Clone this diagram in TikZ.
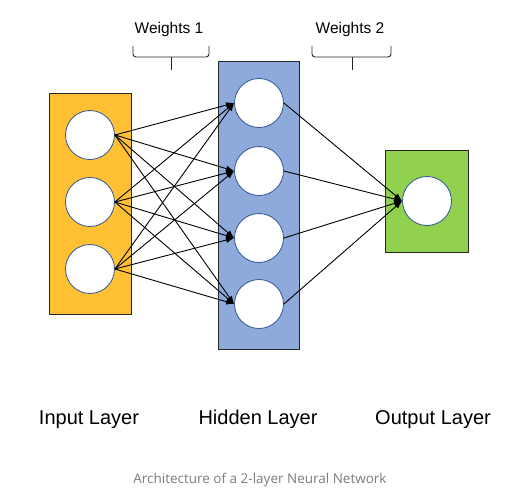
\documentclass[tikz,border=0pt]{standalone}
\usepackage{fontspec}
\setmainfont{Liberation Sans}
\newfontfamily\captionfont{Open Sans}
\usetikzlibrary{arrows.meta}

\definecolor{inputfill}{HTML}{FFC133}
\definecolor{hiddenfill}{HTML}{8EAADB}
\definecolor{outputfill}{HTML}{92D050}
\definecolor{ringblue}{HTML}{2F5597}
\definecolor{captiongray}{HTML}{7C7C7C}

\begin{document}
\begin{tikzpicture}[x=1pt,y=-1pt,
  layerbox/.style={draw=black!85,line width=0.9pt,inner sep=0pt},
  neuron/.style={circle,draw=ringblue,fill=white,line width=0.8pt,minimum size=49pt,inner sep=0pt},
  weight/.style={-{Latex[length=8pt,width=6pt]},line width=0.9pt},
  bracket/.style={line width=0.9pt,rounded corners=3pt,draw=black!85},
  layername/.style={anchor=base,font=\fontsize{20}{24}\selectfont},
  weightname/.style={anchor=base,font=\fontsize{15.5}{18}\selectfont}]

\useasboundingbox (0,0) rectangle (513,492);

% Layer boxes
\node[layerbox,fill=inputfill,minimum width=82pt,minimum height=221pt] (inbox) at (90,203.5) {};
\node[layerbox,fill=hiddenfill,minimum width=81pt,minimum height=288pt] (hidbox) at (258.5,205) {};
\node[layerbox,fill=outputfill,minimum width=83pt,minimum height=102pt] (outbox) at (426.5,201) {};

% Neurons
\foreach \i/\y in {1/135,2/202,3/269}
  \node[neuron] (in\i) at (90,\y) {};
\foreach \i/\y in {1/103,2/171,3/238,4/304}
  \node[neuron] (hid\i) at (259,\y) {};
\node[neuron] (out) at (427,201) {};

% Weights
\foreach \i in {1,2,3}
  \foreach \j in {1,2,3,4}
    \draw[weight] (in\i.east) -- (hid\j.west);
\foreach \j in {1,2,3,4}
  \draw[weight] (hid\j.east) -- (out.west);

% Brackets
\draw[bracket] (133,46) -- (133,57) -- (209,57) -- (209,46);
\draw[bracket] (171,57) -- (171,70);
\draw[bracket] (312,46) -- (312,57) -- (391,57) -- (391,46);
\draw[bracket] (352,57) -- (352,70);
\node[weightname] (w1) at (169,34) {Weights 1};
\node[weightname] (w2) at (350,34) {Weights 2};

% Layer names
\node[layername] (inname) at (89,424) {Input Layer};
\node[layername] (hidname) at (258,424) {Hidden Layer};
\node[layername] (outname) at (433,424) {Output Layer};

% Caption
\node[anchor=base,font=\captionfont\fontsize{13.5}{16}\selectfont,text=captiongray] (cap) at (260,483) {Architecture of a 2-layer Neural Network};

\end{tikzpicture}
\end{document}
